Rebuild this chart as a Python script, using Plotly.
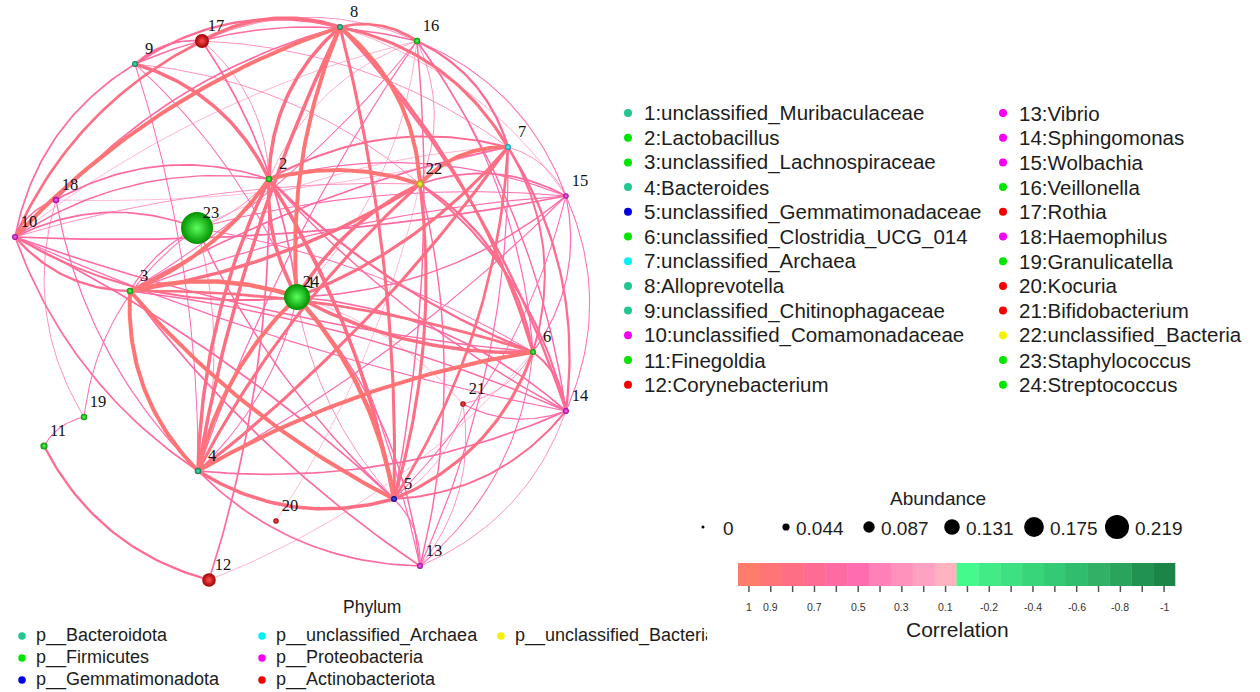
import numpy as np
import plotly.graph_objects as go

W, H = 1260, 692

# ---------------- data ----------------
species = [
    "unclassified_Muribaculaceae", "Lactobacillus", "unclassified_Lachnospiraceae",
    "Bacteroides", "unclassified_Gemmatimonadaceae", "unclassified_Clostridia_UCG_014",
    "unclassified_Archaea", "Alloprevotella", "unclassified_Chitinophagaceae",
    "unclassified_Comamonadaceae", "Finegoldia", "Corynebacterium", "Vibrio",
    "Sphingomonas", "Wolbachia", "Veillonella", "Rothia", "Haemophilus",
    "Granulicatella", "Kocuria", "Bifidobacterium", "unclassified_Bacteria",
    "Staphylococcus", "Streptococcus",
]

phyla = [
    "p__Bacteroidota", "p__Firmicutes", "p__Gemmatimonadota",
    "p__unclassified_Archaea", "p__Proteobacteria", "p__Actinobacteriota",
    "p__unclassified_Bacteria",
]

# phylum index of each genus (0-based into `phyla`)
species_phylum = [0, 1, 1, 0, 2, 1, 3, 0, 0, 4, 1, 5,
                  4, 4, 4, 1, 5, 4, 1, 5, 5, 6, 1, 1]

# relative abundance of each genus
abundance = [0.012, 0.020, 0.020, 0.020, 0.015, 0.015, 0.015, 0.015,
             0.015, 0.015, 0.025, 0.075, 0.015, 0.015, 0.012, 0.020,
             0.078, 0.020, 0.020, 0.012, 0.012, 0.025, 0.219, 0.172]

# network layout coordinates of each genus
node_x = [297, 269, 130, 198, 394, 533, 508, 340, 135, 15, 44, 209,
          420, 566, 566, 417, 202, 56, 84, 276, 463, 420, 197, 297]
node_y = [298, 179, 291, 471, 499, 352, 147, 27, 64, 237, 446, 580,
          566, 411, 196, 41, 41, 200, 417, 521, 404, 184, 228, 297]

# significant correlations: (genus a, genus b, r)
edges = [
    (8, 9, 0.70), (8, 17, 0.85), (8, 10, 0.90), (8, 16, 0.75), (8, 7, 0.80),
    (8, 22, 0.90), (8, 2, 0.85), (8, 24, 0.90), (8, 4, 0.85), (8, 5, 0.80),
    (8, 6, 0.75), (8, 14, 0.70), (8, 15, 0.35), (8, 18, 0.60),
    (16, 7, 0.70), (16, 15, 0.45), (16, 14, 0.55), (16, 6, 0.50), (16, 5, 0.55),
    (16, 22, 0.40), (16, 3, 0.45), (16, 24, 0.35), (16, 9, 0.55), (16, 17, 0.40),
    (16, 4, 0.50), (16, 2, 0.35), (16, 10, 0.30),
    (9, 2, 0.85), (9, 10, 0.60), (9, 24, 0.45), (9, 4, 0.45), (9, 17, 0.60),
    (9, 22, 0.40),
    (17, 24, 0.60), (17, 10, 0.75), (17, 7, 0.40), (17, 2, 0.40),
    (7, 22, 0.90), (7, 2, 0.65), (7, 3, 0.60), (7, 4, 0.80), (7, 5, 0.75),
    (7, 6, 0.65), (7, 14, 0.70), (7, 15, 0.40), (7, 24, 0.80), (7, 23, 0.30),
    (7, 13, 0.50), (7, 18, 0.25),
    (22, 2, 0.90), (22, 15, 0.60), (22, 24, 0.85), (22, 3, 0.85), (22, 4, 0.80),
    (22, 5, 0.80), (22, 6, 0.70), (22, 14, 0.65), (22, 13, 0.55), (22, 10, 0.40),
    (2, 24, 0.85), (2, 3, 0.90), (2, 4, 0.85), (2, 5, 0.85), (2, 6, 0.70),
    (2, 18, 0.60), (2, 23, 0.40), (2, 15, 0.50), (2, 14, 0.55), (2, 13, 0.50),
    (2, 10, 0.55),
    (15, 10, 0.60), (15, 6, 0.50), (15, 14, 0.45), (15, 3, 0.50), (15, 24, 0.55),
    (15, 5, 0.45), (15, 4, 0.50), (15, 23, 0.45),
    (18, 10, 0.55), (18, 19, 0.40), (18, 4, 0.50),
    (23, 10, 0.60), (23, 3, 0.50), (23, 5, 0.55), (23, 6, 0.45), (23, 19, 0.45),
    (23, 4, 0.40),
    (10, 3, 0.70), (10, 24, 0.65), (10, 4, 0.60), (10, 5, 0.60), (10, 6, 0.55),
    (10, 14, 0.50),
    (3, 24, 0.95), (3, 4, 0.90), (3, 5, 0.90), (3, 6, 0.75), (3, 13, 0.60),
    (3, 14, 0.55),
    (24, 4, 0.90), (24, 5, 0.95), (24, 6, 0.85), (24, 14, 0.60), (24, 13, 0.55),
    (24, 21, 0.30),
    (6, 4, 0.90), (6, 5, 0.80), (6, 14, 0.65), (6, 13, 0.45), (6, 21, 0.40),
    (14, 4, 0.60), (14, 5, 0.65), (14, 21, 0.50), (14, 13, 0.40),
    (4, 5, 0.85), (4, 13, 0.60),
    (5, 13, 0.50), (5, 21, 0.35), (13, 21, 0.40),
    (12, 11, 0.70), (12, 2, 0.60), (12, 6, 0.30), (11, 19, 0.45),
    (1, 22, 0.50), (1, 4, 0.45), (1, 7, 0.45), (1, 5, 0.40), (20, 22, 0.25),
]

# colour key for correlation
corr_ticks = [1, 0.9, 0.8, 0.7, 0.6, 0.5, 0.4, 0.3, 0.2, 0.1,
              -0.1, -0.2, -0.3, -0.4, -0.5, -0.6, -0.7, -0.8, -0.9, -1]
corr_colors = ["#FF7C6A", "#FF7576", "#FF6F84", "#FF6C93", "#FF6AA2",
               "#FF6DB0", "#FF81B7", "#FF92BC", "#FFA2C1", "#FFB3BF",
               "#45FA8C", "#41EC87", "#3DE181", "#38D57B", "#34CA75",
               "#30BE6E", "#32B066", "#2AA35C", "#229250", "#1C8447"]
corr_labelled = [1, 0.9, 0.7, 0.5, 0.3, 0.1, -0.2, -0.4, -0.6, -0.8, -1]

abund_ticks = [0, 0.044, 0.087, 0.131, 0.175, 0.219]

# ---------------- styles ----------------
phylum_flat = ["#22C78E", "#00E600", "#0000E0", "#00F2F5", "#F500F5", "#F50000", "#F5F200"]
phylum_edge = ["#0C7652", "#009000", "#00008A", "#0098A8", "#980098", "#A00000", "#A0A000"]
phylum_glow = ["#55E8B4", "#5CFF5C", "#5060FF", "#70FFFF", "#FF70FF", "#FF5050", "#FFFF60"]

SANS = "Liberation Sans, Arial, sans-serif"
SERIF = "Liberation Serif, Times New Roman, serif"
TXT = "#1c1c1c"


def leg_diam(a):
    return 3 + 96 * a


NET_SCALE = 1.33


def corr_color(r):
    i = int(np.argmin([abs(r - t) for t in corr_ticks]))
    return corr_colors[i]


def corr_width(r):
    return 0.6 + 4.4 * (max(r - 0.2, 0) / 0.8) ** 2


fig = go.Figure()

# ---------------- edges ----------------
px = np.array(node_x, float)
py = np.array(node_y, float)
cx, cy = px.mean(), py.mean()
tt = np.linspace(0, 1, 40)


def curve(a, b):
    p0 = np.array([px[a - 1], py[a - 1]])
    p2 = np.array([px[b - 1], py[b - 1]])
    d = p2 - p0
    L = np.hypot(*d)
    n = np.array([-d[1], d[0]]) / L
    mid = (p0 + p2) / 2
    dist_mid = np.hypot(mid[0] - cx, mid[1] - cy)
    k = min(1.0, 220.0 / L)
    if dist_mid > 140:
        # rim edges bow away from the middle of the layout
        if np.hypot(*(mid + n - [cx, cy])) < np.hypot(*(mid - n - [cx, cy])):
            n = -n
        c = 0.22 * k
    else:
        n = n if (a + b) % 2 == 0 else -n
        c = 0.15 * k
    p1 = mid + c * L * n
    xs = (1 - tt) ** 2 * p0[0] + 2 * (1 - tt) * tt * p1[0] + tt ** 2 * p2[0]
    ys = (1 - tt) ** 2 * p0[1] + 2 * (1 - tt) * tt * p1[1] + tt ** 2 * p2[1]
    return xs, ys


groups = {}
for a, b, r in edges:
    groups.setdefault(round(r, 2), []).append((a, b))

for r in sorted(groups):
    ex, ey = [], []
    for a, b in groups[r]:
        xs, ys = curve(a, b)
        ex += list(xs) + [None]
        ey += list(ys) + [None]
    fig.add_trace(go.Scatter(
        x=ex, y=ey, mode="lines", hoverinfo="skip", showlegend=False,
        line=dict(color=corr_color(r), width=corr_width(r)),
    ))

# ---------------- nodes ----------------
order = np.argsort(abundance, kind="stable")
fig.add_trace(go.Scatter(
    x=[node_x[i] for i in order], y=[node_y[i] for i in order],
    mode="markers", showlegend=False,
    text=[f"{i + 1}:{species[i]}" for i in order], hoverinfo="text",
    marker=dict(
        size=[NET_SCALE * leg_diam(abundance[i]) for i in order],
        color=[phylum_edge[species_phylum[i]] for i in order],
        gradient=dict(type="radial", color=[phylum_glow[species_phylum[i]] for i in order]),
        line=dict(width=0), opacity=1,
    ),
))

fig.add_trace(go.Scatter(
    x=[x + 14 for x in node_x], y=[y - 14 for y in node_y],
    mode="text", text=[str(i + 1) for i in range(len(species))],
    textfont=dict(family=SERIF, size=16.5, color="#111111"),
    hoverinfo="skip", showlegend=False,
))

annotations = []


def label(x, y, s, size, anchor="left", color=TXT, family=SANS):
    annotations.append(dict(
        x=x, y=y, xref="x", yref="y", text=s, showarrow=False,
        xanchor=anchor, yanchor="middle",
        font=dict(family=family, size=size, color=color),
    ))


# ---------------- genus list ----------------
col_dot = [628, 1003]
col_txt = [642, 1017]
row0, drow = 113, 24.7
gx, gy, gc = [], [], []
for i, name in enumerate(species):
    col, row = divmod(i, 12)
    y = row0 + row * drow
    gx.append(col_dot[col])
    gy.append(y)
    gc.append(phylum_flat[species_phylum[i]])
    label(col_txt[col], y, f"{i + 1}:{name}", 20.5)
fig.add_trace(go.Scatter(
    x=gx, y=gy, mode="markers", hoverinfo="skip", showlegend=False,
    marker=dict(size=8, color=gc, line=dict(width=0), opacity=1),
))

# ---------------- abundance key ----------------
label(938, 498, "Abundance", 19, anchor="center")
ab_dot = [703, 786, 869, 952, 1034, 1117]
fig.add_trace(go.Scatter(
    x=ab_dot, y=[527] * len(abund_ticks), mode="markers",
    hoverinfo="skip", showlegend=False,
    marker=dict(size=[leg_diam(a) for a in abund_ticks], color="#000000",
                line=dict(width=0), opacity=1),
))
for xd, a in zip(ab_dot, abund_ticks):
    txt = "0" if a == 0 else f"{a:.3f}"
    off = 18 if a == 0 else leg_diam(a) / 2 + 4
    label(xd + off, 528, txt, 19)

# ---------------- correlation key ----------------
cb_x0, cb_x1, cb_y0, cb_y1 = 738, 1175, 563, 586
bw = (cb_x1 - cb_x0) / len(corr_ticks)
shapes = []
for i, (t, col) in enumerate(zip(corr_ticks, corr_colors)):
    x0 = cb_x0 + i * bw
    shapes.append(dict(type="rect", xref="x", yref="y", x0=x0, x1=x0 + bw + 0.3,
                       y0=cb_y0, y1=cb_y1, fillcolor=col, line=dict(width=0), layer="below"))
    xc = x0 + bw / 2
    shapes.append(dict(type="line", xref="x", yref="y", x0=xc, x1=xc, y0=cb_y1, y1=cb_y1 + 6,
                       line=dict(color="#555555", width=1.5)))
    if t in corr_labelled:
        label(xc, 607, f"{t:g}", 10.5, anchor="center", color="#333333")
label(957, 629, "Correlation", 21, anchor="center")

# ---------------- phylum key (clipped panel) ----------------
label(372, 607, "Phylum", 17.5, anchor="center")
ph_dot = [22, 262, 501]
ph_txt = [36, 276, 515]
ph_rows = [636, 658, 680]
kx, ky, kc, tx, ty, tt_ = [], [], [], [], [], []
for j, name in enumerate(phyla):
    col, row = divmod(j, 3)
    kx.append(ph_dot[col])
    ky.append(ph_rows[row])
    kc.append(phylum_flat[j])
    tx.append(ph_txt[col])
    ty.append(ph_rows[row])
    tt_.append(name)
fig.add_trace(go.Scatter(
    x=kx, y=ky, mode="markers", xaxis="x2", yaxis="y2", hoverinfo="skip",
    showlegend=False, marker=dict(size=7.5, color=kc, line=dict(width=0)),
))
fig.add_trace(go.Scatter(
    x=tx, y=ty, mode="text", text=tt_, textposition="middle right",
    xaxis="x2", yaxis="y2", hoverinfo="skip", showlegend=False, cliponaxis=True,
    textfont=dict(family=SANS, size=18, color=TXT),
))

CLIP = 707
fig.update_layout(
    width=W, height=H, margin=dict(l=0, r=0, t=0, b=0),
    paper_bgcolor="white", plot_bgcolor="rgba(0,0,0,0)",
    xaxis=dict(range=[0, W], domain=[0, 1], visible=False, fixedrange=True),
    yaxis=dict(range=[H, 0], domain=[0, 1], visible=False, fixedrange=True),
    xaxis2=dict(range=[0, CLIP], domain=[0, CLIP / W], visible=False, anchor="y2",
                fixedrange=True),
    yaxis2=dict(range=[H, 0], domain=[0, 1], visible=False, anchor="x2", fixedrange=True),
    shapes=shapes, annotations=annotations, showlegend=False,
)

fig.write_html("out.html")
